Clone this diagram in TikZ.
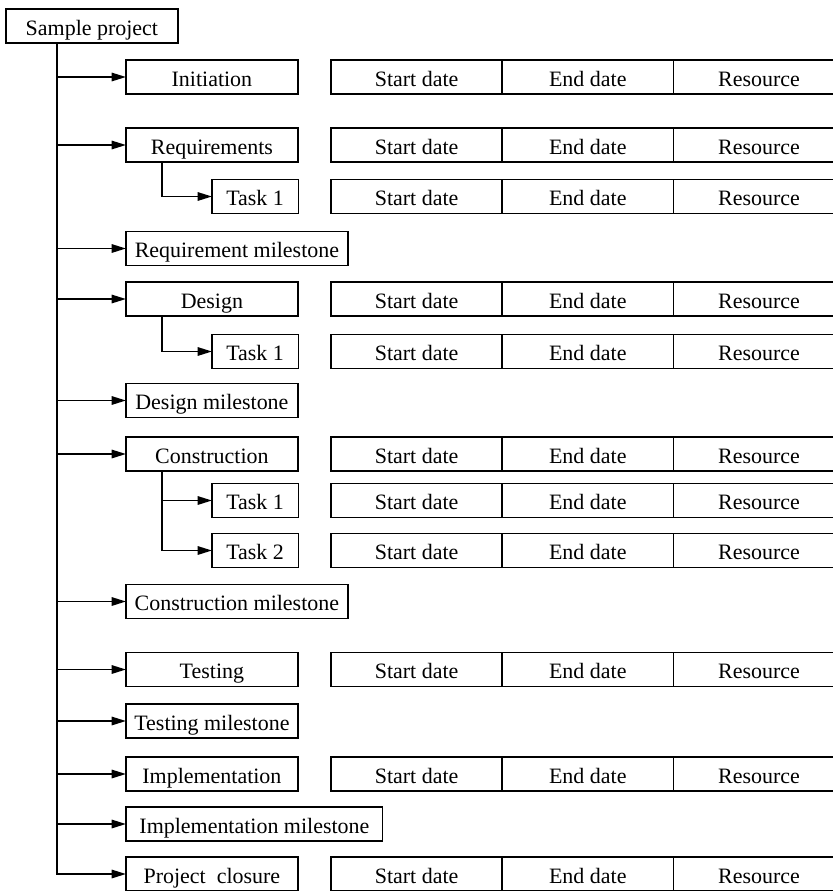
\documentclass[tikz,border=0pt]{standalone}
\usepackage{fontspec}
\setmainfont{Liberation Serif}
\usetikzlibrary{arrows.meta,positioning}

\tikzset{
  box/.style={draw, line width=0.65pt, minimum height=0.55cm, inner sep=2pt,
    outer sep=0pt, text height=2ex, text depth=0.15ex, anchor=west},
  phase/.style={box, minimum width=2.75cm},
  task/.style={box, minimum width=1.38cm},
  cell/.style={box, minimum width=2.74cm},
  arr/.style={-{Triangle[length=6.5pt,width=3.8pt]}, line width=0.85pt}
}

\begin{document}
\begin{tikzpicture}[x=0.016cm, y=-0.016cm]
    \useasboundingbox (0,0) rectangle (833,891);
    \clip (0,0) rectangle (833,891);
    \node [phase] (sp) at (6,26) {Sample project};
    \coordinate (trunk) at (57,43);

    % phases, tasks and milestones
    \node [phase] (init) at (126,77) {Initiation};
    \node [phase] (req) at (126,145) {Requirements};
    \node [task] (reqt) at (212,196.5) {Task 1};
    \node [phase, minimum width=3.55cm] (reqm) at (126,248.5) {Requirement milestone};
    \node [phase] (des) at (126,299) {Design};
    \node [task] (dest) at (212,351.5) {Task 1};
    \node [phase] (desm) at (126,400.5) {Design milestone};
    \node [phase] (con) at (126,454) {Construction};
    \node [task] (cont1) at (212,500.5) {Task 1};
    \node [task] (cont2) at (212,550.5) {Task 2};
    \node [phase, minimum width=3.55cm] (conm) at (126,601.5) {Construction milestone};
    \node [phase] (tst) at (126,669.5) {Testing};
    \node [phase] (tstm) at (126,721) {Testing milestone};
    \node [phase] (imp) at (126,774) {Implementation};
    \node [phase, minimum width=4.11cm] (impm) at (126,824) {Implementation milestone};
    \node [phase] (clo) at (126,874) {Project\ \ closure};

    % date / resource columns
    \foreach \r in {init,req,reqt,des,dest,con,cont1,cont2,tst,imp,clo} {
      \node [cell] (\r s) at (331,0 |- \r.west) {Start date};
      \node [cell, right=0pt of \r s] (\r e) {End date};
      \node [cell, right=0pt of \r e] (\r r) {Resource};
    }

    % trunk and branches
    \foreach \p in {init,req,reqm,des,desm,con,conm,tst,tstm,imp,impm,clo}
      \draw [arr] (trunk) |- (\p.west);
    \draw [arr] ([xshift=0.576cm]req.south west) |- (reqt.west);
    \draw [arr] ([xshift=0.576cm]des.south west) |- (dest.west);
    \draw [arr] ([xshift=0.576cm]con.south west) |- (cont1.west);
    \draw [arr] ([xshift=0.576cm]con.south west) |- (cont2.west);
\end{tikzpicture}
\end{document}
